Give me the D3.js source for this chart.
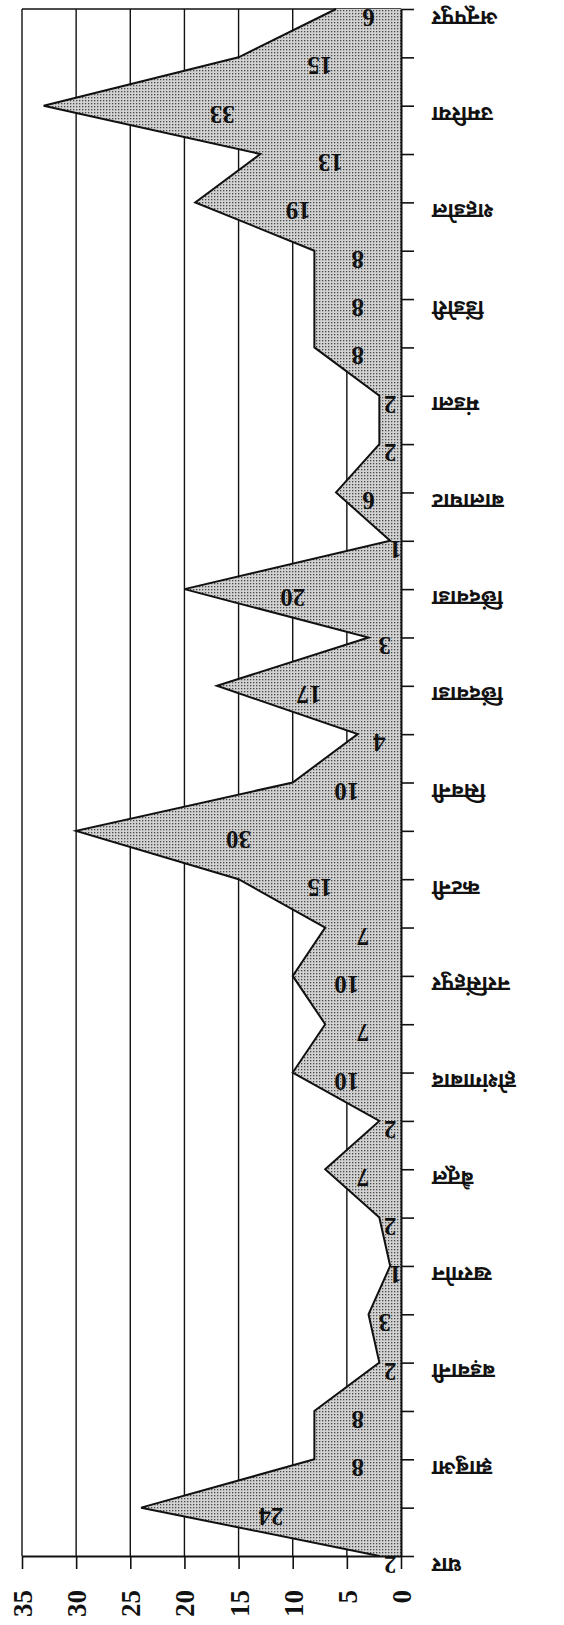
<!DOCTYPE html>
<html>
<head>
<meta charset="utf-8">
<script src="https://cdn.jsdelivr.net/npm/d3@7"></script>
<style>
  body { margin: 0; background: #fff; }
  svg { display: block; }
</style>
</head>
<body>
<script>
// values, bottom point first
const values = [2, 24, 8, 8, 2, 3, 1, 2, 7, 2, 10, 7, 10, 7, 15, 30, 10, 4, 17, 3, 20, 1, 6, 2, 2, 8, 8, 8, 19, 13, 33, 15, 6];
// label for every other point
const labels = ["धार", "झाबुआ", "बड़वानी", "खरगोन", "बैतूल", "होशंगाबाद", "नरसिंहपुर", "कटनी", "सिवनी",
  "छिंदवाडा", "छिंदवाडा", "बालाघाट", "मंडला", "डिंडोरी", "शहडोल", "उमरिया", "अनूपपुर"];
const valueTicks = [0, 5, 10, 15, 20, 25, 30, 35];

const W = 564, H = 1625;
const svg = d3.select("body").append("svg").attr("width", W).attr("height", H);

const x = d3.scaleLinear().domain([0, 35]).range([401, 22]);
const y = d3.scalePoint().domain(d3.range(values.length)).range([1556, 9]);

const defs = svg.append("defs");
const pat = defs.append("pattern").attr("id", "dots")
  .attr("width", 3).attr("height", 3).attr("patternUnits", "userSpaceOnUse");
pat.append("rect").attr("width", 3).attr("height", 3).attr("fill", "#d2d2d2");
pat.append("rect").attr("x", 1).attr("y", 1).attr("width", 1.3).attr("height", 1.3).attr("fill", "#474747");

// grid
svg.append("g").selectAll("line").data(valueTicks.filter(t => t > 0)).join("line")
  .attr("x1", d => x(d)).attr("x2", d => x(d))
  .attr("y1", y(values.length - 1)).attr("y2", y(0))
  .attr("stroke", "#111").attr("stroke-width", 1.4);

// top border
svg.append("line").attr("x1", x(35)).attr("x2", x(0))
  .attr("y1", y(values.length - 1)).attr("y2", y(values.length - 1))
  .attr("stroke", "#111").attr("stroke-width", 1.6);

// area
const area = d3.area().y((d, i) => y(i)).x0(x(0)).x1(d => x(d));
svg.append("path").datum(values).attr("d", area).attr("fill", "url(#dots)");
const line = d3.line().y((d, i) => y(i)).x(d => x(d));
svg.append("path").datum(values).attr("d", line)
  .attr("fill", "none").attr("stroke", "#111").attr("stroke-width", 2);

// value axis
const ax = svg.append("g").attr("transform", `translate(0,${y(0)})`)
  .call(d3.axisBottom(x).tickValues(valueTicks).tickSize(13).tickSizeOuter(0));
ax.select(".domain").attr("stroke", "#111").attr("stroke-width", 2);
ax.selectAll(".tick line").attr("stroke", "#111").attr("stroke-width", 1.6);
ax.selectAll(".tick text")
  .attr("y", null).attr("dy", "0.35em")
  .attr("transform", "translate(0,34) rotate(-90)")
  .attr("text-anchor", "end")
  .attr("font-family", "Liberation Serif, serif").attr("font-weight", "bold")
  .attr("font-size", 27).attr("fill", "#111");

// category axis
const cy = svg.append("g").attr("transform", `translate(${x(0)},0)`)
  .call(d3.axisRight(y).tickSize(13).tickSizeOuter(0)
    .tickFormat(d => d % 2 === 0 ? labels[d / 2] : ""));
cy.select(".domain").attr("stroke", "#111").attr("stroke-width", 2);
cy.selectAll(".tick line").attr("stroke", "#111").attr("stroke-width", 1.6);
cy.selectAll(".tick text")
  .attr("x", null).attr("dy", null)
  .attr("transform", "translate(31,1) rotate(180)")
  .attr("text-anchor", "end")
  .attr("font-family", "Noto Sans Devanagari, Lohit Devanagari, Noto Sans, sans-serif")
  .attr("font-weight", "bold")
  .attr("font-size", 21).attr("fill", "#111");

// value labels at half height
svg.append("g").selectAll("text").data(values).join("text")
  .attr("transform", (d, i) => `translate(${x(d / 2)},${y(i)}) rotate(180)`)
  .attr("text-anchor", "middle")
  .attr("font-family", "Liberation Serif, serif").attr("font-weight", "bold")
  .attr("font-size", 25).attr("fill", "#111")
  .text(d => d);
</script>
</body>
</html>
